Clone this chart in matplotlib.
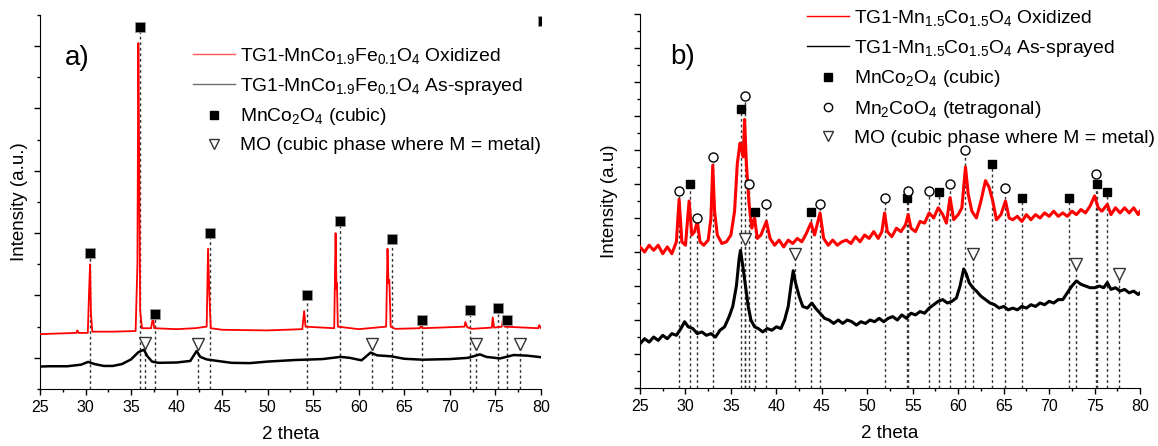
import numpy as np
import matplotlib
matplotlib.use("Agg")
from matplotlib import pyplot as plt
from matplotlib.lines import Line2D
from matplotlib.ticker import MultipleLocator

plt.rcParams['font.family'] = ['Liberation Sans', 'DejaVu Sans']
plt.rcParams['mathtext.fontset'] = 'custom'
plt.rcParams['mathtext.rm'] = 'Liberation Sans'
plt.rcParams['mathtext.it'] = 'Liberation Sans:italic'
plt.rcParams['mathtext.bf'] = 'Liberation Sans:bold'

#panel a) TG1-MnCo1.9Fe0.1O4 (a.u.)
a_ox_x = [25.0, 27.0, 29.0, 29.1, 29.25, 30.25, 30.4, 30.5, 30.6, 30.75, 33.0, 35.5, 35.7, 35.8, 35.9,
          36.0, 36.2, 37.2, 37.4, 37.55, 40.0, 42.0, 43.3, 43.45, 43.6, 43.75, 45.0, 50.0, 53.8, 54.0,
          54.15, 57.3, 57.45, 57.55, 57.6, 57.7, 60.0, 63.0, 63.15, 63.25, 63.35, 63.5, 64.0, 66.7,
          66.8, 67.0, 71.6, 71.7, 71.9, 72.4, 74.6, 74.7, 74.85, 75.7, 75.8, 76.0, 79.7, 79.8, 80.0]
a_ox_y = [0.76, 0.78, 0.80, 0.88, 0.80, 0.80, 2.2, 3.0, 1.4, 0.84, 0.84, 0.86, 3.0, 10.1, 6.0,
          1.5, 0.95, 0.95, 1.3, 0.95, 0.92, 0.95, 1.0, 3.5, 2.0, 0.95, 0.90, 0.88, 0.92, 1.5,
          1.0, 0.95, 4.0, 2.2, 2.4, 1.0, 0.92, 1.0, 3.5, 2.4, 2.5, 1.0, 0.93, 0.95,
          1.05, 0.95, 1.0, 1.15, 0.98, 0.93, 0.97, 1.3, 0.97, 1.0, 1.2, 1.0, 0.95, 1.05, 0.95]

a_as_x = [25, 26, 28, 29.5, 30.3, 31, 32, 33, 34, 35, 35.8, 36.4, 36.8, 37.3, 38, 40, 41.5, 42.2,
          42.6, 43.3, 44.5, 46, 48, 50, 53, 56, 58, 59, 60.3, 61.3, 62, 63.5, 65, 67, 70, 72,
          73.3, 74, 75.5, 77, 78.5, 80]
a_as_y = [-0.28, -0.27, -0.27, -0.22, -0.13, -0.2, -0.26, -0.26, -0.2, -0.05, 0.18, 0.26, 0.05,
          -0.12, -0.16, -0.15, -0.1, 0.22, 0.03, -0.05, -0.1, -0.16, -0.17, -0.12, -0.07, -0.04,
          0.03, 0.0, -0.08, 0.17, 0.08, 0.05, -0.03, -0.06, -0.04, 0.0, 0.11, 0.03, -0.02, 0.09,
          0.07, 0.02]

a_sq_x = [30.5, 36.0, 37.6, 43.7, 54.3, 57.9, 63.6, 66.9, 72.2, 75.3, 76.3, 80.25]
a_sq_y = [3.37, 10.6, 1.41, 4.0, 2.02, 4.39, 3.81, 1.22, 1.54, 1.60, 1.22, 10.8]
a_tri_x = [36.5, 42.4, 61.5, 72.9, 77.7]
a_tri_y = [0.48, 0.45, 0.45, 0.45, 0.45]

#panel b) TG1-Mn1.5Co1.5O4
b_ox_x = [25.0, 25.5, 26.0, 26.5, 27.0, 27.5, 28.0, 28.5, 29.0, 29.3, 29.6, 30.0, 30.4, 30.7, 31.0,
          31.3, 31.6, 32.0, 32.5, 32.8, 33.0, 33.2, 33.5, 34.0, 34.5, 35.0, 35.4, 35.7, 36.0, 36.2,
          36.35, 36.5, 36.7, 37.0, 37.3, 37.6, 37.9, 38.3, 38.9, 39.3, 39.8, 40.3, 40.8, 41.3, 41.8,
          42.3, 42.8, 43.3, 43.8, 44.2, 44.8, 45.2, 45.7, 46.2, 46.7, 47.2, 47.7, 48.2, 48.7, 49.2,
          49.7, 50.2, 50.7, 51.2, 51.6, 51.9, 52.2, 52.7, 53.2, 53.7, 54.2, 54.5, 54.8, 55.3, 55.8,
          56.3, 56.8, 57.3, 57.8, 58.3, 58.7, 59.1, 59.5, 60.0, 60.4, 60.8, 61.1, 61.5, 62.0, 62.5,
          63.0, 63.4, 63.8, 64.2, 64.7, 65.2, 65.6, 66.0, 66.5, 67.0, 67.5, 68.0, 68.5, 69.0, 69.5,
          70.0, 70.5, 71.0, 71.5, 72.0, 72.5, 73.0, 73.5, 74.0, 74.5, 75.0, 75.4, 75.8, 76.4, 76.8,
          77.3, 77.8, 78.3, 78.8, 79.3, 79.8, 80.0]
b_ox_y = [4.15, 4.0, 4.2, 4.05, 4.2, 3.95, 4.15, 3.95, 4.3, 5.55, 4.3, 4.2, 5.5, 4.5, 4.6,
          4.9, 4.3, 4.2, 4.35, 5.0, 6.55, 5.2, 4.5, 4.25, 4.3, 4.5, 5.2, 6.6, 7.2, 7.0,
          6.8, 7.9, 6.6, 5.4, 4.7, 5.0, 4.4, 4.5, 4.9, 4.4, 4.2, 4.35, 4.15, 4.35, 4.25,
          4.4, 4.3, 4.55, 4.85, 4.5, 5.15, 4.4, 4.2, 4.35, 4.2, 4.3, 4.35, 4.25, 4.45, 4.3,
          4.5, 4.4, 4.6, 4.4, 4.6, 5.15, 4.6, 4.45, 4.7, 4.6, 4.8, 5.1, 4.7, 4.6, 4.9,
          4.85, 5.15, 5.0, 5.3, 5.1, 4.85, 5.6, 4.95, 5.1, 5.3, 6.5, 5.7, 5.2, 5.0, 5.5,
          6.1, 5.9, 5.5, 4.95, 5.1, 5.5, 5.0, 4.95, 5.05, 4.9, 5.1, 4.95, 5.1, 5.0, 5.15,
          5.05, 5.2, 5.05, 5.15, 5.05, 5.2, 5.1, 5.25, 5.15, 5.35, 5.65, 5.3, 5.2, 5.4, 5.1,
          5.3, 5.15, 5.3, 5.15, 5.3, 5.1, 5.2]

b_as_x = [25.0, 25.5, 26.0, 26.5, 27.0, 27.5, 28.0, 28.5, 29.0, 29.5, 29.9, 30.3, 30.8, 31.3, 31.8,
          32.3, 32.8, 33.3, 33.8, 34.3, 34.8, 35.2, 35.6, 35.9, 36.05, 36.3, 36.6, 36.9, 37.2, 37.6,
          38.0, 38.5, 39.0, 39.5, 40.0, 40.5, 40.9, 41.3, 41.6, 41.85, 42.1, 42.5, 42.9, 43.4, 43.9,
          44.3, 44.8, 45.3, 45.8, 46.3, 46.8, 47.3, 47.8, 48.3, 48.8, 49.3, 49.8, 50.3, 50.8, 51.3,
          51.8, 52.3, 52.8, 53.3, 53.8, 54.3, 54.8, 55.3, 55.8, 56.3, 56.8, 57.3, 57.8, 58.3, 58.8,
          59.3, 59.8, 60.2, 60.6, 60.9, 61.2, 61.6, 62.0, 62.5, 63.0, 63.5, 64.0, 64.5, 65.0, 65.5,
          66.0, 66.5, 67.0, 67.5, 68.0, 68.5, 69.0, 69.5, 70.0, 70.5, 71.0, 71.5, 72.0, 72.5, 73.0,
          73.5, 74.0, 74.5, 75.0, 75.5, 76.0, 76.4, 76.8, 77.3, 77.8, 78.3, 78.8, 79.3, 79.8, 80.0]
b_as_y = [1.3, 1.45, 1.35, 1.5, 1.4, 1.55, 1.45, 1.6, 1.55, 1.75, 1.95, 1.8, 1.75, 1.6, 1.65,
          1.55, 1.6, 1.5, 1.7, 1.8, 2.1, 2.4, 3.0, 3.8, 4.05, 3.6, 3.0, 2.4, 2.0, 1.8,
          1.75, 1.65, 1.75, 1.7, 1.8, 1.75, 2.0, 2.4, 3.0, 3.45, 3.1, 2.7, 2.4, 2.35, 2.5,
          2.35, 2.2, 2.05, 2.0, 1.9, 2.0, 1.9, 2.0, 1.95, 1.85, 1.95, 1.9, 2.0, 1.95, 2.05,
          1.95, 2.05, 2.1, 2.0, 2.15, 2.05, 2.2, 2.15, 2.25, 2.2, 2.35, 2.45, 2.55, 2.6, 2.5,
          2.55, 2.65, 3.0, 3.5, 3.35, 3.1, 2.95, 2.85, 2.7, 2.6, 2.5, 2.45, 2.35, 2.4, 2.3,
          2.35, 2.3, 2.4, 2.35, 2.45, 2.4, 2.5, 2.45, 2.55, 2.5, 2.6, 2.6, 2.8, 3.0, 3.15,
          3.05, 3.0, 2.95, 2.95, 3.0, 2.95, 3.1, 2.9, 2.95, 2.85, 2.9, 2.8, 2.85, 2.75, 2.8]

b_sq_x = [30.5, 36.1, 37.7, 43.8, 54.4, 57.9, 63.7, 67.0, 72.2, 75.3, 76.4]
b_sq_y = [6.0, 8.2, 5.18, 5.18, 5.58, 5.77, 6.59, 5.58, 5.58, 6.0, 5.77]
b_circ_x = [29.3, 31.3, 33.0, 36.6, 37.0, 38.9, 44.8, 51.9, 54.5, 56.8, 59.1, 60.8, 65.2, 75.1]
b_circ_y = [5.79, 4.99, 6.8, 8.59, 6.0, 5.4, 5.4, 5.58, 5.79, 5.79, 6.0, 7.0, 5.89, 6.29]
b_tri_x = [36.6, 42.1, 61.6, 72.9, 77.7]
b_tri_y = [4.37, 3.94, 3.94, 3.64, 3.35]

fs = 13.5
legfs = 13.9

fig = plt.figure(figsize=(11.58, 4.46), dpi=100)
ax1 = fig.add_axes([0.0345, 0.1278, 0.4327, 0.8386])
ax2 = fig.add_axes([0.5527, 0.130, 0.4318, 0.8386])

def droplines(ax, xs, ys, bottom):
  #dotted guide from each marker down to the x axis
  for x, y in zip(xs, ys):
    ax.plot([x, x], [bottom, y], color="#333333", lw=1, dashes=(2, 2), zorder=2)

def style_axis(ax, ymin, ymax, major, minor):
  ax.set_xlim(25, 80)
  ax.set_ylim(ymin, ymax)
  ax.xaxis.set_major_locator(MultipleLocator(5))
  ax.xaxis.set_minor_locator(MultipleLocator(2.5))
  ax.yaxis.set_major_locator(MultipleLocator(major))
  ax.yaxis.set_minor_locator(MultipleLocator(minor))
  ax.spines['top'].set_visible(False)
  ax.spines['right'].set_visible(False)
  ax.tick_params(which='both', direction='out', width=1, labelleft=False, labelsize=11.5)
  ax.tick_params(which='major', length=4.5)
  ax.tick_params(which='minor', length=2.5)
  ax.set_xlabel("2 theta", fontsize=fs, labelpad=8)

#panel a
droplines(ax1, a_sq_x, a_sq_y, -1)
droplines(ax1, a_tri_x, a_tri_y, -1)
ax1.plot(a_ox_x, a_ox_y, color="red", lw=1.3, zorder=3)
ax1.plot(a_as_x, a_as_y, color="black", lw=1.8, zorder=3)
ax1.plot(a_sq_x, a_sq_y, ls="none", marker="s", ms=6.5, mfc="black", mec="#999999", mew=0.6, zorder=4)
ax1.plot(a_tri_x, a_tri_y, ls="none", marker="v", ms=8, mfc="white", mec="#333333", mew=1, zorder=4)
style_axis(ax1, -1, 11, 2, 1)
ax1.set_ylabel("Intensity (a.u.)", fontsize=fs, labelpad=4)
ax1.text(0.05, 0.885, "a)", transform=ax1.transAxes, fontsize=20, va="center")

handles_a = [Line2D([], [], color="#ff5a5a", lw=1),
             Line2D([], [], color="#6e6e6e", lw=1),
             Line2D([], [], ls="none", marker="s", ms=6, color="black"),
             Line2D([], [], ls="none", marker="v", ms=7, mfc="white", mec="#333333")]
labels_a = ["TG1-MnCo$_{1.9}$Fe$_{0.1}$O$_4$ Oxidized",
            "TG1-MnCo$_{1.9}$Fe$_{0.1}$O$_4$ As-sprayed",
            "MnCo$_2$O$_4$ (cubic)",
            "MO (cubic phase where M = metal)"]
fig.legend(handles_a, labels_a, loc="upper left", bbox_to_anchor=(193/1158, 1 - 46/446),
           frameon=False, fontsize=legfs, borderpad=0, borderaxespad=0, handlelength=2.15,
           handletextpad=0.3, labelspacing=0.5)

#panel b
droplines(ax2, b_sq_x, b_sq_y, 0)
droplines(ax2, b_circ_x, b_circ_y, 0)
droplines(ax2, b_tri_x, b_tri_y, 0)
ax2.plot(b_ox_x, b_ox_y, color="red", lw=2.2, zorder=3)
ax2.plot(b_as_x, b_as_y, color="black", lw=2.2, zorder=3)
ax2.plot(b_sq_x, b_sq_y, ls="none", marker="s", ms=6, mfc="black", mec="black", zorder=4)
ax2.plot(b_circ_x, b_circ_y, ls="none", marker="o", ms=6.5, mfc="white", mec="black", mew=1, zorder=4)
ax2.plot(b_tri_x, b_tri_y, ls="none", marker="v", ms=8, mfc="white", mec="#333333", mew=1, zorder=4)
style_axis(ax2, 0, 11, 1, 0.5)
ax2.set_ylabel("Intensity (a.u)", fontsize=fs, labelpad=11)
ax2.text(0.06, 0.885, "b)", transform=ax2.transAxes, fontsize=20, va="center")

handles_b = [Line2D([], [], color="red", lw=1),
             Line2D([], [], color="black", lw=1),
             Line2D([], [], ls="none", marker="s", ms=6, color="black"),
             Line2D([], [], ls="none", marker="o", ms=6, mfc="white", mec="black"),
             Line2D([], [], ls="none", marker="v", ms=7, mfc="white", mec="#333333")]
labels_b = ["TG1-Mn$_{1.5}$Co$_{1.5}$O$_4$ Oxidized",
            "TG1-Mn$_{1.5}$Co$_{1.5}$O$_4$ As-sprayed",
            "MnCo$_2$O$_4$ (cubic)",
            "Mn$_2$CoO$_4$ (tetragonal)",
            "MO (cubic phase where M = metal)"]
fig.legend(handles_b, labels_b, loc="upper left", bbox_to_anchor=(807/1158, 1 - 8/446),
           frameon=False, fontsize=legfs, borderpad=0, borderaxespad=0, handlelength=2.15,
           handletextpad=0.3, labelspacing=0.5)

fig.savefig("out.png", dpi=100)
